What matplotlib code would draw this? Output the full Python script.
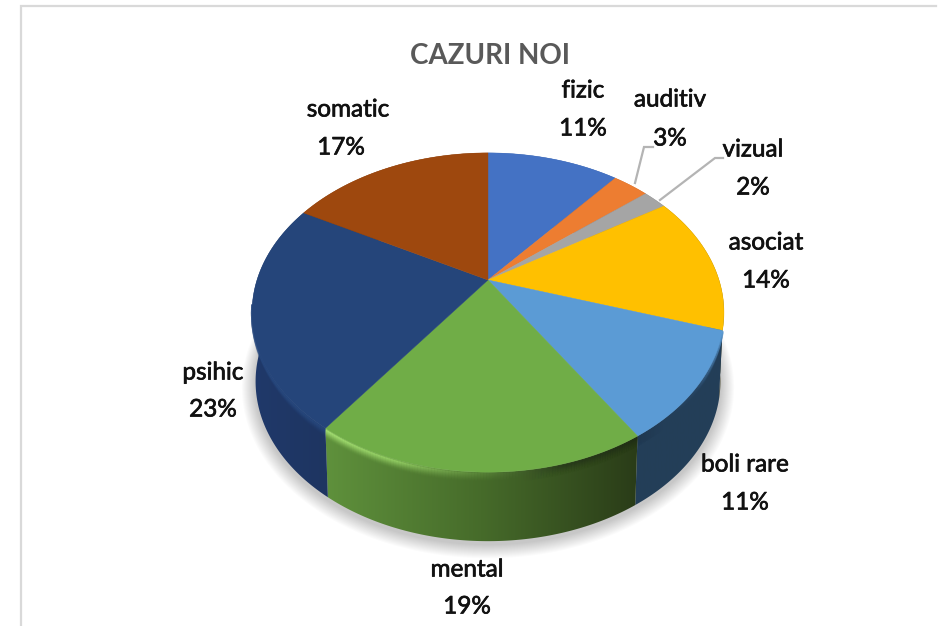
"""Perspective 3D pie of new cases, drawn as projected polygons."""
import numpy as np
import matplotlib
matplotlib.use("Agg")
import matplotlib.pyplot as plt
import matplotlib.patheffects as pe
from matplotlib.collections import LineCollection
from matplotlib.colors import LinearSegmentedColormap, to_rgb
from matplotlib.patches import Polygon

categories = ["fizic", "auditiv", "vizual", "asociat", "boli rare", "mental", "psihic", "somatic"]
values = [11, 3, 2, 14, 11, 19, 23, 17]
top_colors = ["#4472C4", "#ED7D31", "#A5A5A5", "#FFC000", "#5B9BD5", "#70AD47", "#25457A", "#9E480E"]
side_colors = [("#2F5597", "#2F5597"), ("#A5561F", "#A5561F"), ("#707070", "#707070"), ("#5A4A10", "#3A3A20"),
               ("#243F58", "#233E58"), ("#5F913C", "#466B2A", "#2A3C18"), ("#20396A", "#1E3561"), ("#6A300A", "#6A300A")]
# edge bevel colours along the rim, from the start of the slice to its end
rim_colors = [None, None, None, None, ("#5B9BD5", "#2A4866", "#1F3850"),
              ("#1F2C14", "#26361A", "#5E8A3C", "#9EDC6C", "#B0EC7C"), ("#28497F", "#28497F"), None]
title = "CAZURI NOI"
# label centres in picture pixels: name, percent
name_pos = [(583, 91), (670, 100), (753, 150), (766, 243), (745, 465), (467, 570), (213, 373), (348, 110)]
pct_pos = [(583, 129), (670, 139), (753, 188), (766, 281), (745, 503), (467, 607), (213, 410), (341, 148)]
leaders = [[(635, 183), (644, 147), (653, 147)], [(660, 200), (715, 158), (723, 158)]]

CX, CY, A, B, K, DEPTH, SHRINK = 488, 280, 231, 153, 0.2038, 69, 0.985


def top_xy(theta):
    u, v = np.sin(theta), np.cos(theta)
    w = 1 + K * v
    return CX + A * u / w, CY - B * v / w


def bottom_xy(theta):
    x, y = top_xy(theta)
    return CX + (x - CX) * SHRINK, y + DEPTH


fig = plt.figure(figsize=(9.4, 6.26), dpi=100)
ax = fig.add_axes([0, 0, 1, 1])
ax.set_xlim(0, 940); ax.set_ylim(626, 0); ax.axis("off")

# frame, only top and left are visible
ax.plot([21, 21, 936], [626, 6, 6], color="#D9D9D9", lw=1.6, solid_joinstyle="miter")

# soft shadow under the pie
full = np.linspace(0, 2 * np.pi, 361)
bx, by = bottom_xy(full)
for grow in np.arange(14, 0, -1.0):
    sx = CX + (bx - CX) * (1 + grow / 237)
    sy = 340 + (by - 340) * (1 + grow / 200) + 3
    ax.add_patch(Polygon(np.c_[sx, sy], fc="#000000", ec="none", alpha=0.014, zorder=1))

edges = np.r_[0, np.cumsum(values)] / np.sum(values) * 2 * np.pi

# side walls
for i, (t0, t1) in enumerate(zip(edges[:-1], edges[1:])):
    th = np.linspace(t0, t1, 80)
    tx, ty = top_xy(th)
    dx, dy = bottom_xy(th)
    poly = Polygon(np.r_[np.c_[tx, ty], np.c_[dx, dy][::-1]], fc="none", ec="none", zorder=2)
    ax.add_patch(poly)
    cmap = LinearSegmentedColormap.from_list(f"side{i}", side_colors[i])
    xs = np.r_[tx, dx]
    im = ax.imshow(np.linspace(0, 1, 256)[None, :], cmap=cmap, aspect="auto", zorder=2,
                   extent=(xs.min(), xs.max(), 626, 0))
    im.set_clip_path(poly)
ax.set_xlim(0, 940); ax.set_ylim(626, 0)

# rim bevel just under the top edge, front of the pie only
for i, (t0, t1) in enumerate(zip(edges[:-1], edges[1:])):
    if rim_colors[i] is None:
        continue
    th = np.linspace(t0, t1, 120)
    th = th[np.cos(th) < -0.15]
    tx, ty = top_xy(th)
    stops = np.array([to_rgb(c) for c in rim_colors[i]])
    pos = np.linspace(0, 1, len(stops))
    frac = np.linspace(0, 1, len(th) - 1)
    seg_col = np.c_[[np.interp(frac, pos, stops[:, k]) for k in range(3)]].T
    for off in np.arange(10, 0, -1.0):
        pts = np.c_[tx, ty + off * np.clip(-np.cos(th) * 1.2, 0, 1)]
        segs = np.stack([pts[:-1], pts[1:]], axis=1)
        alpha = 0.7 * (1 - off / 11) ** 2
        ax.add_collection(LineCollection(segs, colors=np.c_[seg_col, np.full(len(segs), alpha)],
                                         linewidths=1.6, zorder=3, capstyle="butt"))

# top faces
for i, (t0, t1) in enumerate(zip(edges[:-1], edges[1:])):
    th = np.linspace(t0, t1, 90)
    tx, ty = top_xy(th)
    ax.add_patch(Polygon(np.c_[np.r_[CX, tx], np.r_[CY, ty]], fc=top_colors[i], ec=top_colors[i],
                         lw=0.3, zorder=4))

for pts in leaders:
    ax.plot(*zip(*pts), color="#B4B4B4", lw=1.6, zorder=5, solid_joinstyle="miter")

font = ["Lato", "Open Sans", "DejaVu Sans"]
thick = [pe.withStroke(linewidth=0.5, foreground="#111111")]
for name, pct_val, np_pos, pp_pos in zip(categories, values, name_pos, pct_pos):
    ax.text(*np_pos, name, ha="center", va="center", family=font, fontsize=17.5, color="#111111",
            zorder=6, path_effects=thick)
    ax.text(*pp_pos, f"{pct_val}%", ha="center", va="center", family=font, fontsize=17.5, color="#111111",
            zorder=6, path_effects=thick)
ax.text(490, 56, title, ha="center", va="center", family=font, fontsize=20, fontweight="bold",
        color="#595959", zorder=6)

fig.savefig("out.png", dpi=100)
